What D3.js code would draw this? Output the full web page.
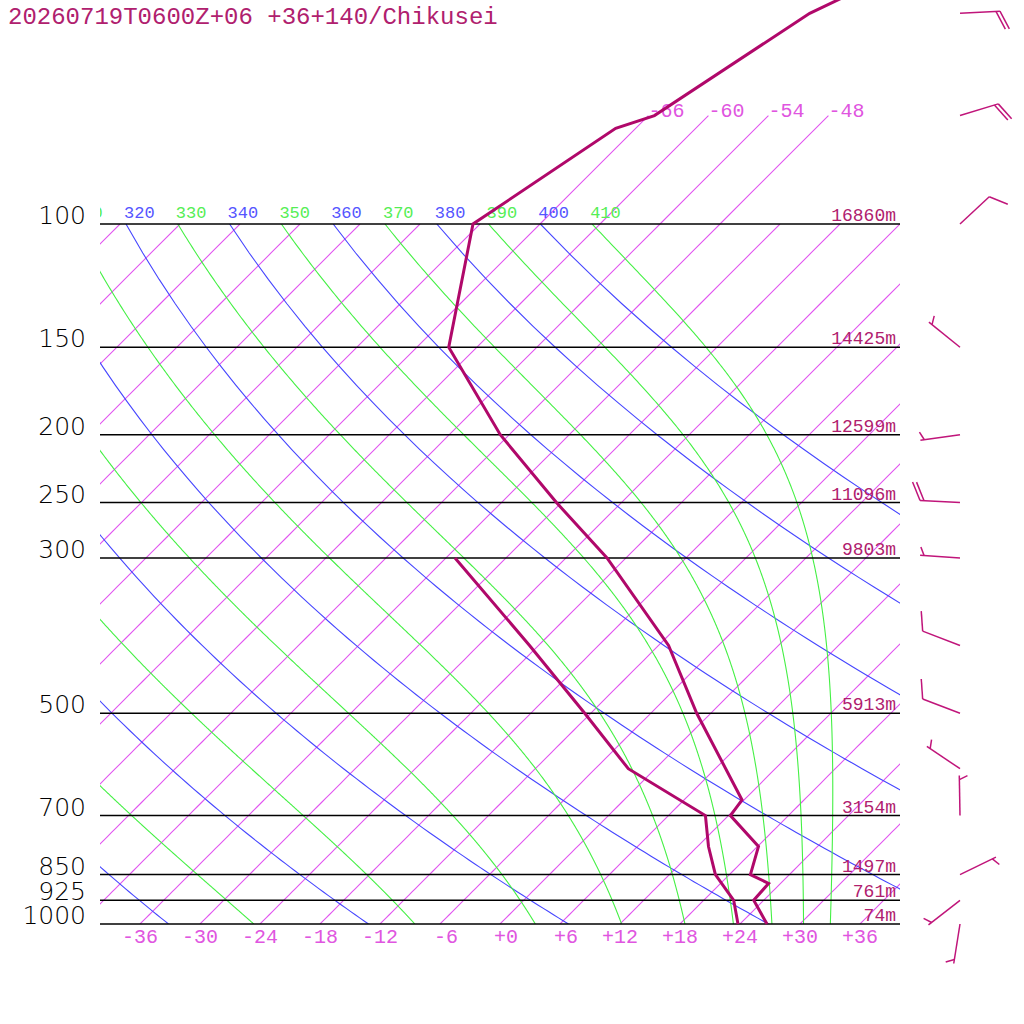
<!DOCTYPE html>
<html>
<head>
<meta charset="utf-8">
<script src="https://cdn.jsdelivr.net/npm/d3@7"></script>
<style>
body { margin: 0; background: #fff; }
</style>
</head>
<body>
<div id="chart-area"></div>
<script>
// sounding for the station
var title = "20260719T0600Z+06 +36+140/Chikusei";

var levels = [100, 150, 200, 250, 300, 500, 700, 850, 925, 1000];
var heights = ["16860m", "14425m", "12599m", "11096m", "9803m", "5913m", "3154m", "1497m", "761m", "74m"];

var tempP = [1000, 925, 875, 850, 775, 700, 665, 500, 400, 300, 250, 200, 150, 100, 73, 70, 50, 40];
var tempT = [26.7, 23.0, 22.8, 20.1, 18.1, 12.2, 11.8, -1.4, -11.0, -25.9, -36.5, -48.9, -62.8, -72.7, -68.0, -65.4, -60.1, -52.6];

var dewP = [1000, 925, 850, 775, 700, 600, 500, 400, 300];
var dewT = [23.8, 21.0, 16.6, 13.1, 9.7, -2.7, -12.6, -24.9, -41.1];

var windP = [50, 70, 100, 150, 200, 250, 300, 400, 500, 600, 700, 850, 925, 1000];
var windDir = [87, 73, 47, 309, 262, 273, 274, 291, 291, 304, 359, 64, 232, 189];
var windSpd = [20, 20, 10, 5, 5, 20, 5, 10, 10, 5, 5, 5, 5, 5];

var tempTicks = [-36, -30, -24, -18, -12, -6, 0, 6, 12, 18, 24, 30, 36];
var isotherms = [-108, -102, -96, -90, -84, -78, -72, -66, -60, -54, -48, -42, -36, -30, -24, -18, -12, -6, 0, 6, 12, 18, 24, 30, 36];
var topIsotherms = [-66, -60, -54, -48];
var dryTheta = [240, 260, 280, 300, 320, 340, 360, 380, 400];
var moistTheta = [250, 270, 290, 310, 330, 350, 370, 390, 410];

var x0 = 100, x1 = 900, yTop = 224, yBot = 924;
var kappa = 0.2857;
var isoColor = "rgb(225,85,240)";

var svg = d3.select("#chart-area")
    .append("svg")
    .attr("width", 1024)
    .attr("height", 1024);

var y = d3.scaleLog().domain([1000, 100]).range([yBot, yTop]);
var xT = d3.scaleLinear().domain([-40, 40]).range([x0, x1]);

// skewed x: isotherms lean 45 degrees
function sx(T, p) {
    return xT(T) + (yBot - y(p));
}

var defs = svg.append("defs");
defs.append("clipPath").attr("id", "plot")
    .append("rect").attr("x", x0).attr("y", yTop).attr("width", x1 - x0).attr("height", yBot - yTop);
defs.append("clipPath").attr("id", "labs")
    .append("rect").attr("x", x0).attr("y", 0).attr("width", x1 - x0).attr("height", yBot);

var line = d3.line().x(d => sx(d[1], d[0])).y(d => y(d[0]));

var pSteps = [];
for (var p = 1000; p >= 100; p -= 10) pSteps.push(p);
var pTop = [100, 90, 80, 70];

var grid = svg.append("g")
    .attr("clip-path", "url(#plot)")
    .attr("fill", "none");

// isotherms
grid.append("g").selectAll("path").data(isotherms).enter()
    .append("path")
    .attr("d", t => line(pSteps.map(p => [p, t])))
    .attr("fill", "none")
    .attr("stroke", isoColor)
    .attr("stroke-width", 1.1);

// dry adiabats
grid.append("g").selectAll("path").data(dryTheta).enter()
    .append("path")
    .attr("d", th => line(pSteps.map(p => [p, th * Math.pow(p / 1000, kappa) - 273.15])))
    .attr("stroke", "#4646ff")
    .attr("stroke-width", 1.1);

// pseudo adiabats, integrated down from 100 hPa
function dTdp(p, T) {
    var es = 6.112 * Math.exp(17.67 * (T - 273.15) / (T - 29.65));
    var rs = 0.622 * es / (p - es);
    var num = 287.04 * T + 2.501e6 * rs;
    var den = 1005.7 + 2.501e6 * 2.501e6 * rs * 0.622 / (287.04 * T * T);
    return num / den / p;
}
function moist(th) {
    var T = th * Math.pow(0.1, kappa);
    var pts = [];
    for (var p = 100; p <= 1000; p += 1) {
        pts.push([p, T - 273.15]);
        var k1 = dTdp(p, T);
        var k2 = dTdp(p + 1, T + k1);
        T += (k1 + k2) / 2;
    }
    return pts;
}
grid.append("g").selectAll("path").data(moistTheta).enter()
    .append("path")
    .attr("d", th => line(moist(th)))
    .attr("stroke", "#44f044")
    .attr("stroke-width", 1.1);

// a few isotherms run on above 100 hPa
svg.append("g").selectAll("path").data(topIsotherms).enter()
    .append("path")
    .attr("d", t => line(pTop.map(p => [p, t])))
    .attr("fill", "none")
    .attr("stroke", isoColor)
    .attr("stroke-width", 1.1);
svg.append("g").selectAll("text").data(topIsotherms).enter()
    .append("text")
    .attr("x", t => sx(t, 70))
    .attr("y", y(70) + 1)
    .attr("font-family", "Liberation Mono, monospace")
    .attr("font-size", 20)
    .attr("fill", "#e055e0")
    .text(t => t);

// theta labels at 100 hPa
var thLabels = dryTheta.concat(moistTheta).filter(th => th >= 300);
svg.append("g").attr("clip-path", "url(#labs)")
    .selectAll("text").data(thLabels).enter()
    .append("text")
    .attr("x", th => sx(th * Math.pow(0.1, kappa) - 273.15, 100) - 2)
    .attr("y", yTop - 6)
    .attr("font-family", "Liberation Mono, monospace")
    .attr("font-size", 17)
    .attr("fill", th => (th % 20 == 0) ? "#5555ff" : "#55ee55")
    .text(th => th);

// pressure lines
svg.append("g").selectAll("line").data(levels).enter()
    .append("line")
    .attr("x1", x0).attr("x2", x1)
    .attr("y1", p => y(p)).attr("y2", p => y(p))
    .attr("stroke", "#000")
    .attr("stroke-width", 1.5);

svg.append("g").selectAll("text").data(levels).enter()
    .append("text")
    .attr("x", 86)
    .attr("y", p => y(p))
    .attr("text-anchor", "end")
    .attr("font-family", "DejaVu Sans, sans-serif")
    .attr("font-weight", 200)
    .attr("font-size", 25)
    .attr("fill", "#000")
    .text(p => p);

svg.append("g").selectAll("text").data(levels).enter()
    .append("text")
    .attr("x", 896)
    .attr("y", p => y(p) - 3)
    .attr("text-anchor", "end")
    .attr("font-family", "Liberation Mono, monospace")
    .attr("font-size", 18)
    .attr("fill", "#b0206e")
    .text((p, i) => heights[i]);

// temperature axis
svg.append("g").selectAll("text").data(tempTicks).enter()
    .append("text")
    .attr("x", t => xT(t) + 18)
    .attr("y", 943)
    .attr("text-anchor", "end")
    .attr("font-family", "Liberation Mono, monospace")
    .attr("font-size", 20)
    .attr("fill", "#e055e0")
    .text(t => (t < 0 ? "-" : "+") + Math.abs(t));

// profiles
var prof = d3.line().x(d => sx(d[1], d[0])).y(d => y(d[0]));
svg.append("path")
    .attr("d", prof(dewP.map((p, i) => [p, dewT[i]])))
    .attr("stroke", "#b0086a")
    .attr("stroke-width", 3)
    .attr("fill", "none");
svg.append("path")
    .attr("d", prof(tempP.map((p, i) => [p, tempT[i]])))
    .attr("stroke", "#b0086a")
    .attr("stroke-width", 3)
    .attr("fill", "none");

// wind barbs
var bx = 960, staff = 40, gap = 4, full = 20, half = 9, lean = 25 * Math.PI / 180;
var barbs = svg.append("g").attr("stroke", "#c0157a").attr("stroke-width", 1.5).attr("fill", "none");
windP.forEach((p, i) => {
    var a = windDir[i] * Math.PI / 180;
    var s = [Math.sin(a), -Math.cos(a)];
    var n = [-s[1], s[0]];
    var f = [n[0] * Math.cos(lean) + s[0] * Math.sin(lean), n[1] * Math.cos(lean) + s[1] * Math.sin(lean)];
    var by = y(p);
    var tip = [bx + staff * s[0], by + staff * s[1]];
    barbs.append("line").attr("x1", bx).attr("y1", by).attr("x2", tip[0]).attr("y2", tip[1]);
    var spd = windSpd[i];
    var pos = 0;
    var nf = Math.floor(spd / 10);
    for (var k = 0; k < nf; k++) {
        var b0 = [tip[0] - pos * s[0], tip[1] - pos * s[1]];
        barbs.append("line").attr("x1", b0[0]).attr("y1", b0[1])
            .attr("x2", b0[0] + full * f[0]).attr("y2", b0[1] + full * f[1]);
        pos += gap;
    }
    if (spd % 10 >= 5) {
        if (pos == 0) pos = gap;
        var h0 = [tip[0] - pos * s[0], tip[1] - pos * s[1]];
        barbs.append("line").attr("x1", h0[0]).attr("y1", h0[1])
            .attr("x2", h0[0] + half * f[0]).attr("y2", h0[1] + half * f[1]);
    }
});

svg.append("text")
    .attr("x", 8)
    .attr("y", 24)
    .attr("font-family", "Liberation Mono, monospace")
    .attr("font-size", 24)
    .attr("fill", "#b0206e")
    .text(title);
</script>
</body>
</html>
